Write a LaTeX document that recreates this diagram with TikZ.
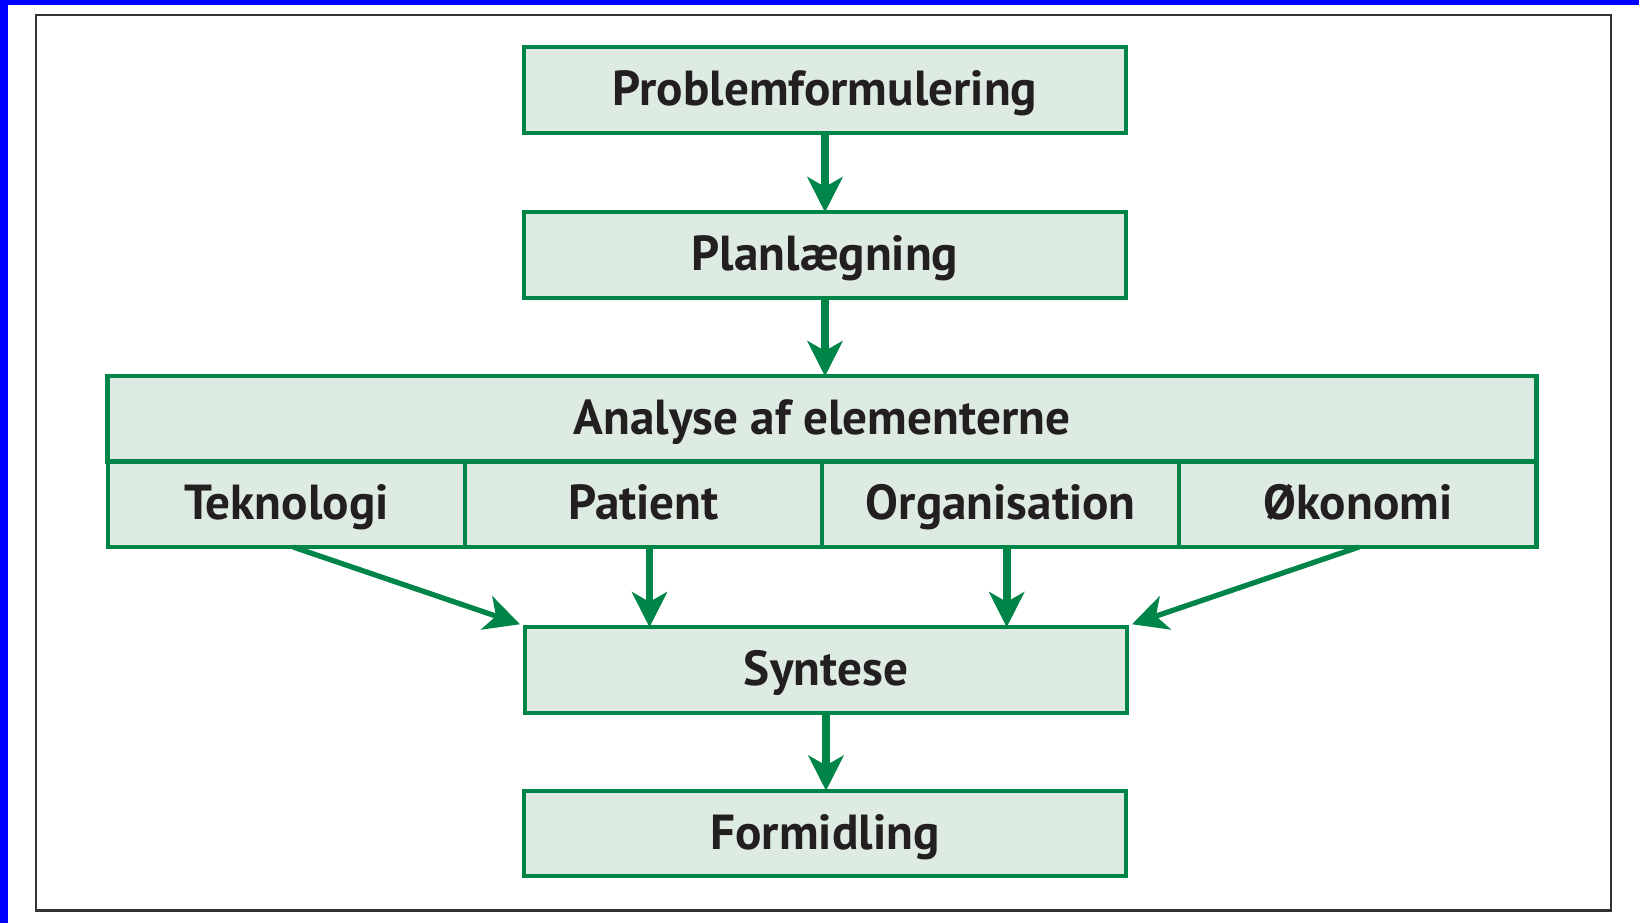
\documentclass[tikz,border=0pt]{standalone}
\usepackage{fontspec}
\setmainfont{PT Sans}
\usepackage{tikz}
\usetikzlibrary{arrows.meta,positioning}
\definecolor{boxgreen}{RGB}{0,133,72}
\definecolor{boxfill}{RGB}{222,235,226}
\definecolor{txt}{RGB}{35,31,32}
\tikzset{
  stepbox/.style={draw=boxgreen,fill=boxfill,line width=1.2pt,inner sep=0pt,outer sep=0pt,
    minimum width=6.02cm,minimum height=0.855cm,text height=0.4cm,text depth=0.086cm,
    text=txt,font=\fontsize{14}{16}\selectfont\bfseries},
  cellbox/.style={stepbox,minimum width=3.572cm},
  flow/.style={draw=boxgreen,line width=2.2pt,-{Stealth[length=10pt,width=10pt,inset=2.8pt]}},
  slant/.style={flow,line width=1.5pt}
}
\begin{document}
\begin{tikzpicture}
          \useasboundingbox (0,0) rectangle (16.39,9.23);
          \fill[blue] (0,9.18) rectangle (16.39,9.23);
          \fill[blue] (0,0) rectangle (0.08,9.23);
          \draw[gray!40!black,line width=0.7pt] (0.36,0.125) rectangle (16.11,9.08);
          \node[stepbox] (prob) at (8.25,8.33){Problemformulering};
          \node[stepbox] (plan) at (8.25,6.68){Planlægning};
          \node[stepbox,minimum width=14.29cm] (analyse) at (8.22,5.04){Analyse af elementerne};
          \node[cellbox] (tek) at (2.863,4.187){Teknologi};
          \node[cellbox] (pat) at (6.435,4.187){Patient};
          \node[cellbox] (org) at (10.007,4.187){Organisation};
          \node[cellbox] (oko) at (13.579,4.187){Økonomi};
          \node[stepbox] (syn) at (8.26,2.53){Syntese};
          \node[stepbox] (form) at (8.25,0.895){Formidling};
          \draw[flow] (prob.south) -- (plan.north);
          \draw[flow] (plan.south) -- (plan.south |- analyse.north);
          \draw[flow] ([xshift=0.06cm]pat.south) -- ([xshift=0.06cm]pat.south |- syn.north);
          \draw[flow] ([xshift=0.06cm]org.south) -- ([xshift=0.06cm]org.south |- syn.north);
          \draw[slant] ([xshift=0.07cm]tek.south) -- ([xshift=-0.05cm,yshift=0.03cm]syn.north west);
          \draw[slant] ([xshift=0.01cm]oko.south) -- ([xshift=0.05cm,yshift=0.03cm]syn.north east);
          \draw[flow] (syn.south) -- (syn.south |- form.north);
        \end{tikzpicture}
\end{document}
